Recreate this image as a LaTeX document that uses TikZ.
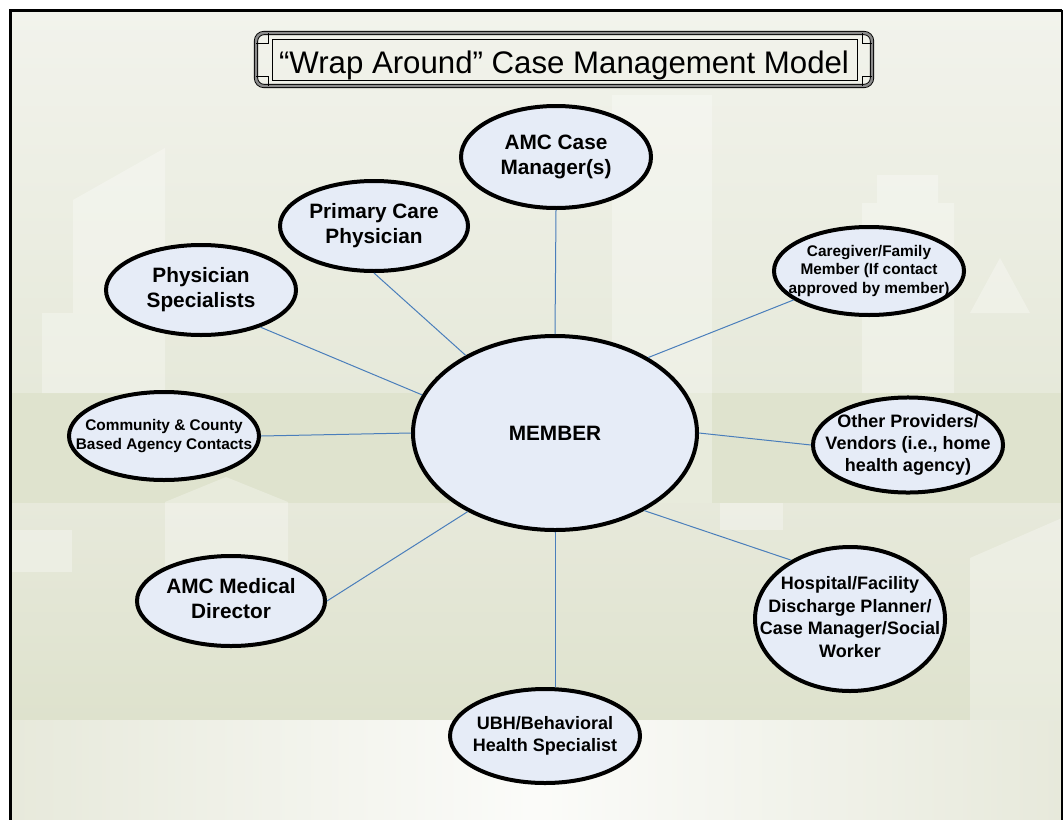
\documentclass[tikz,border=0pt]{standalone}
\usepackage{fontspec}
\setmainfont{Liberation Sans}
\usepackage{tikz}
\usetikzlibrary{shapes.geometric}
\usepackage{xcolor}
\definecolor{ovalfill}{HTML}{E6ECF7}
\definecolor{linkblue}{HTML}{4A7EBB}
\definecolor{skytop}{HTML}{F2F3EC}
\definecolor{skylow}{HTML}{E6E9DA}
\definecolor{bandgreen}{HTML}{DFE3CE}
\definecolor{groundtop}{HTML}{E7E9DB}
\definecolor{groundlow}{HTML}{DEE2CD}
% text that may run over the oval's edge
\newcommand{\squeeze}[1]{\makebox[0pt]{\begin{tabular}{@{}c@{}}#1\end{tabular}}}

\begin{document}
\begin{tikzpicture}[
  x=0.5pt,y=-0.5pt,
  every node/.style={font=\bfseries},
  oval/.style={ellipse,draw,line width=2pt,fill=ovalfill,inner sep=0pt},
  bigv/.style={oval,font=\fontsize{10.4}{12.7}\selectfont\bfseries},
  midv/.style={oval,font=\fontsize{9}{11.2}\selectfont\bfseries},
  smallv/.style={oval,font=\fontsize{7.7}{9.3}\selectfont\bfseries},
  link/.style={draw=linkblue,line width=0.5pt},
  tower/.style={fill=white,fill opacity=0.3,draw=none},
  plaque/.style={draw=black,line width=0.45pt,double=black!45,double distance=1.2pt}
]
  \useasboundingbox (0,0) rectangle (1064,819);
  \fill[white] (0,0) rectangle (1064,819);

  % slide background with a faint skyline
  \begin{scope}
    \clip (10,10) rectangle (1062,819);
    \shade[top color=skytop,bottom color=skylow] (10,10) rectangle (1062,393);
    \fill[bandgreen] (10,393) rectangle (1062,503);
    \shade[top color=groundtop,bottom color=groundlow] (10,503) rectangle (1062,720);
    \shade[left color=groundtop,right color=groundtop,middle color=white!70!skytop] (10,720) rectangle (1062,819);
    \fill[tower] (42,393) -- (42,313) -- (73,313) -- (73,200) -- (165,148) -- (165,393) -- cycle;
    \fill[tower] (612,503) -- (612,95) -- (712,95) -- (712,503) -- cycle;
    \fill[tower] (862,393) -- (862,203) -- (877,203) -- (877,175) -- (938,175) -- (938,203) -- (954,203) -- (954,393) -- cycle;
    \fill[tower] (970,313) -- (1000,258) -- (1030,313) -- cycle;
    \fill[tower] (165,572) -- (165,502) -- (226,477) -- (288,502) -- (288,572) -- cycle;
    \fill[tower] (12,572) rectangle (72,530);
    \fill[tower] (720,503) rectangle (783,530);
    \fill[tower] (970,720) -- (970,558) -- (1062,518) -- (1062,720) -- cycle;
  \end{scope}
  \draw[line width=1.5pt] (10,830) |- (1062,10);
  \draw[line width=0.8pt] (1062,10) -- (1062,830);

  % title plaque
  \draw[plaque,rounded corners=4pt] (256,33) rectangle (872,86);
  \draw[line width=0.45pt] (256,43) -| (268,33) (872,43) -| (862,33)
    (256,76) -| (268,86) (872,76) -| (862,86);
  \draw[line width=0.45pt] (272,39) rectangle (857,80);
  \node[font=\fontsize{15.6}{18}\selectfont,anchor=base] (title) at (564,73)
    {\textquotedblleft Wrap Around\textquotedblright{} Case Management Model};

  % spokes
  \node[bigv,minimum width=142pt,minimum height=97pt] (member) at (555,433) {MEMBER};
  \node[bigv,minimum width=95pt,minimum height=51pt] (amc) at (556,157) {\squeeze{AMC Case\\Manager(s)}};
  \node[bigv,minimum width=94pt,minimum height=45pt] (pcp) at (374,226) {\squeeze{Primary Care\\Physician}};
  \node[bigv,minimum width=95pt,minimum height=45pt] (spec) at (201,290) {\squeeze{Physician\\Specialists}};
  \node[smallv,minimum width=95pt,minimum height=44pt] (care) at (869,271) {\squeeze{Caregiver/Family\\Member (If contact\\approved by member)}};
  \node[smallv,minimum width=95pt,minimum height=44pt] (comm) at (164,436) {\squeeze{Community \& County\\Based Agency Contacts}};
  \node[midv,minimum width=95pt,minimum height=44pt] (other) at (908,445) {\squeeze{Other Providers/\\Vendors (i.e., home\\health agency)}};
  \node[bigv,minimum width=94pt,minimum height=45pt] (med) at (231,601) {\squeeze{AMC Medical\\Director}};
  \node[midv,minimum width=95pt,minimum height=72pt] (hosp) at (850,619) {\squeeze{Hospital/Facility\\Discharge Planner/\\Case Manager/Social\\Worker}};
  \node[midv,minimum width=95pt,minimum height=47pt] (ubh) at (545,736) {\squeeze{UBH/Behavioral\\Health Specialist}};

  \draw[link] (amc.south) -- (member.north);
  \draw[link] (pcp.south) -- (member.139);
  \draw[link] (spec.328) -- (member.164);
  \draw[link] (care.201) -- (member.39);
  \draw[link] (comm.east) -- (member.west);
  \draw[link] (member.east) -- (other.west);
  \draw[link] (med.east) -- (member.222);
  \draw[link] (member.319) -- (hosp.135);
  \draw[link] (member.south) -- (member.south |- ubh.north);
\end{tikzpicture}
\end{document}
